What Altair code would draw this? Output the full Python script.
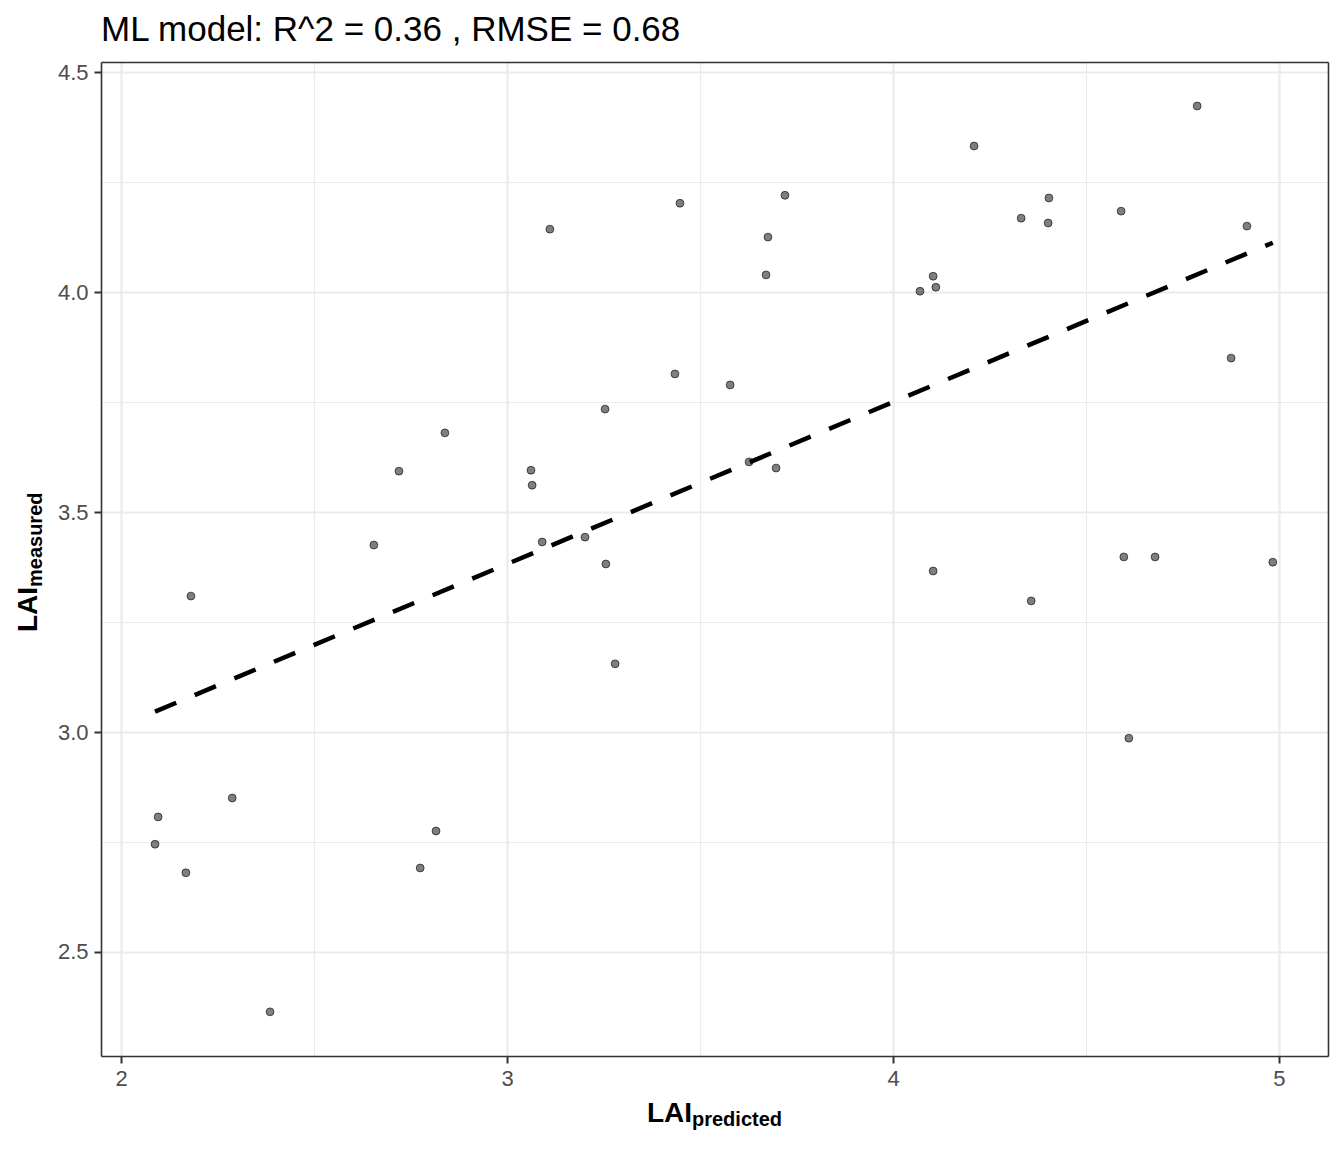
import altair as alt
import pandas as pd

# LAI predicted (x) and measured (y)
lai_predicted = [4.788, 4.210, 3.720, 3.448, 4.404, 4.332, 4.402, 4.591, 4.917, 3.111,
                 3.676, 3.671, 4.104, 4.070, 4.111, 4.876, 3.435, 3.578, 3.254, 2.839,
                 2.720, 3.062, 3.065, 3.627, 3.697, 3.202, 3.091, 2.655, 3.256, 4.679,
                 4.598, 4.984, 4.104, 4.358, 2.181, 3.280, 4.611, 2.096, 2.288, 2.088,
                 2.816, 2.168, 2.775, 2.386]
lai_measured = [4.423, 4.332, 4.220, 4.202, 4.214, 4.168, 4.157, 4.184, 4.150, 4.143,
                4.125, 4.039, 4.036, 4.002, 4.011, 3.850, 3.814, 3.789, 3.734, 3.680,
                3.593, 3.595, 3.561, 3.614, 3.600, 3.443, 3.432, 3.425, 3.382, 3.398,
                3.398, 3.386, 3.366, 3.298, 3.309, 3.155, 2.986, 2.807, 2.850, 2.745,
                2.775, 2.680, 2.691, 2.364]

x_major = [2, 3, 4, 5]
x_minor = [2.5, 3.5, 4.5]
y_major = [2.5, 3.0, 3.5, 4.0, 4.5]
y_minor = [2.75, 3.25, 3.75, 4.25]
x_domain = [1.948, 5.127]
y_domain = [2.2636, 4.523]

title_text = "ML model: R^2 = 0.36 , RMSE = 0.68"

df = pd.DataFrame({"pred": lai_predicted, "meas": lai_measured})
one = pd.DataFrame({"k": [0]})

FONT = "Liberation Sans"
W, H = 1227, 994
BORDER = "#333333"
BW = 1.6

xs = alt.Scale(domain=x_domain, nice=False, zero=False)
ys = alt.Scale(domain=y_domain, nice=False, zero=False)

minor = alt.Chart(df).mark_point(opacity=0).encode(
    x=alt.X("pred:Q", scale=xs, axis=alt.Axis(orient="top", values=x_minor, grid=True,
            gridColor="#EBEBEB", gridWidth=1.1, ticks=False, labels=False, domain=True,
            domainColor=BORDER, domainWidth=BW, title=None)),
    y=alt.Y("meas:Q", scale=ys, axis=alt.Axis(orient="right", values=y_minor, grid=True,
            gridColor="#EBEBEB", gridWidth=1.1, ticks=False, labels=False, domain=True,
            domainColor=BORDER, domainWidth=BW, title=None)),
)

points = alt.Chart(df).mark_circle(size=62, color="#000000", fillOpacity=0.5,
                                   stroke="#000000", strokeOpacity=0.6, strokeWidth=1,
                                   opacity=1).encode(
    x=alt.X("pred:Q", scale=xs, axis=alt.Axis(orient="bottom", values=x_major, format="d", grid=True,
            gridColor="#EBEBEB", gridWidth=2.2, ticks=True, tickColor=BORDER, tickWidth=2,
            tickSize=7, labelFontSize=22, labelFont=FONT, labelColor="#4D4D4D", labelPadding=5,
            domain=True, domainColor=BORDER, domainWidth=BW, title=None)),
    y=alt.Y("meas:Q", scale=ys, axis=alt.Axis(orient="left", values=y_major, format=".1f", grid=True,
            gridColor="#EBEBEB", gridWidth=2.2, ticks=True, tickColor=BORDER, tickWidth=2,
            tickSize=7, labelFontSize=22, labelFont=FONT, labelColor="#4D4D4D", labelPadding=6,
            domain=True, domainColor=BORDER, domainWidth=BW, title=None)),
)

line = alt.Chart(df).transform_regression("pred", "meas").mark_line(
    color="#000000", strokeWidth=4.5, strokeDash=[23, 20], strokeCap="butt").encode(
    x=alt.X("pred:Q", scale=xs, axis=None),
    y=alt.Y("meas:Q", scale=ys, axis=None),
)

def label(text, x, y, size, align, angle=0):
    kw = dict(text=text, font=FONT, fontSize=size, fontWeight="bold", color="#000000",
              align=align, baseline="alphabetic")
    if angle:
        kw["angle"] = angle
    return alt.Chart(one).mark_text(**kw).encode(x=alt.value(x), y=alt.value(y))

xt1 = label("LAI", 591, 1060, 28, "right")
xt2 = label("predicted", 591, 1064, 20, "left")
yt1 = label("LAI", -64, 525, 28, "right", 270)
yt2 = label("measured", -59, 525, 20, "left", 270)

chart = alt.layer(minor, points, line, xt1, xt2, yt1, yt2).resolve_axis(
    x="independent", y="independent"
).properties(
    width=W, height=H,
    title=alt.TitleParams(title_text, anchor="start", frame="group", font=FONT, fontSize=35,
                          fontWeight="normal", color="#000000", offset=13),
    autosize=alt.AutoSizeParams(type="none"),
    padding={"left": 93, "top": 54, "right": 8, "bottom": 80},
).configure_view(stroke=BORDER, strokeWidth=BW, strokeOpacity=1).configure(background="white")

chart.save("out.html", embed_options={"renderer": "svg", "actions": False})
